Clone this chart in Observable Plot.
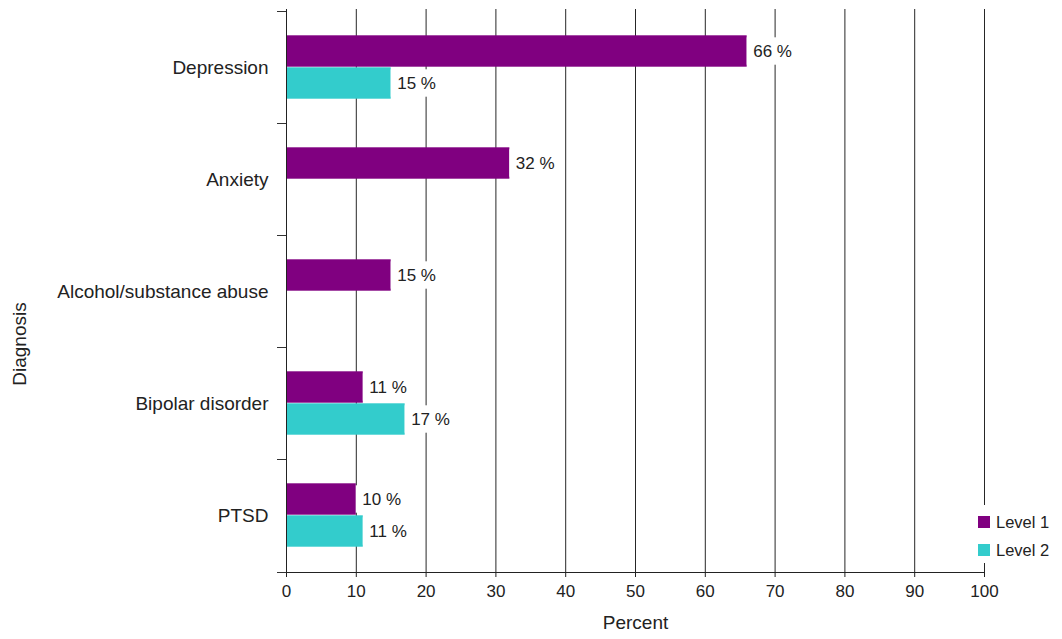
<!DOCTYPE html>
<html>
<head>
<meta charset="utf-8">
<script src="https://cdn.jsdelivr.net/npm/d3@7"></script>
<script src="https://cdn.jsdelivr.net/npm/@observablehq/plot@0.6"></script>
<style>
  html, body { margin: 0; padding: 0; background: #fff; }
  #wrap { position: relative; width: 1062px; height: 639px; font-family: "Liberation Sans", Arial, sans-serif; color: #222; }
  #legend { position: absolute; left: 975px; top: 505px; width: 87px; height: 58px; background: #fff; padding-top: 3px; box-sizing: border-box; }
  .item { display: flex; align-items: center; height: 28px; font-size: 16.5px; }
  .sw { width: 12px; height: 12px; margin-left: 3px; margin-right: 6px; }
  #ytitle { position: absolute; left: 20px; top: 344px; font-size: 19px; white-space: nowrap;
            transform: translate(-50%, -50%) rotate(-90deg); }
</style>
</head>
<body>
<div id="wrap"></div>
<script>
// Share of patients by diagnosis and care level (percent)
const categories = ["Depression", "Anxiety", "Alcohol/substance abuse", "Bipolar disorder", "PTSD"];
const levels = ["Level 1", "Level 2"];
const level1 = [66, 32, 15, 11, 10];
const level2 = [15, null, null, 17, 11];
const xTicks = [0, 10, 20, 30, 40, 50, 60, 70, 80, 90, 100];
const colors = ["#800080", "#33CCCC"];

const W = 1062, H = 639;
const mL = 286, mR = 78, mT = 9, mB = 67;
const band = (H - mT - mB) / categories.length;
const barH = 32;
const off = (band - 2 * barH) / 2;
const pxToX = 100 / (W - mL - mR);
const boxW = 46 * pxToX;

const rows = [level1, level2].map(vals =>
  categories.map((c, i) => ({diagnosis: c, value: vals[i]})).filter(d => d.value != null)
);

// inset pairs for the upper and lower bar in each band
const insets = [
  {insetTop: off, insetBottom: off + barH},
  {insetTop: off + barH, insetBottom: off}
];

const barMarks = rows.flatMap((data, k) => [
  Plot.barX(data, {x: "value", y: "diagnosis", fill: colors[k], ...insets[k]}),
  Plot.barX(data, {x1: "value", x2: d => d.value + boxW, y: "diagnosis", fill: "#fff",
    insetTop: insets[k].insetTop + 2, insetBottom: insets[k].insetBottom + 2}),
  Plot.text(data, {x: "value", y: "diagnosis", text: d => `${d.value} %`, textAnchor: "start",
    dx: 6, dy: (k === 0 ? -1 : 1) * barH / 2, fontSize: 17, fill: "#222"})
]);

// tick marks on the category boundaries
function bandTicks(index, scales, values, dims) {
  const g = d3.create("svg:g").attr("stroke", "#333").attr("stroke-width", 1);
  const bw = (dims.height - dims.marginTop - dims.marginBottom) / categories.length;
  const ys = categories.map(c => scales.y(c)).concat([scales.y(categories[categories.length - 1]) + bw]);
  for (const y of ys) {
    g.append("line").attr("x1", dims.marginLeft - 9).attr("x2", dims.marginLeft)
      .attr("y1", Math.round(y) + 0.5).attr("y2", Math.round(y) + 0.5);
  }
  return g.node();
}

const chart = Plot.plot({
  width: W, height: H,
  marginLeft: mL, marginRight: mR, marginTop: mT, marginBottom: mB,
  style: {fontFamily: "'Liberation Sans', Arial, sans-serif", color: "#222", background: "#fff"},
  x: {domain: [0, 100]},
  y: {domain: categories, type: "band", padding: 0},
  marks: [
    Plot.gridX(xTicks.filter(t => t > 0), {stroke: "#000", strokeOpacity: 0.85}),
    ...barMarks,
    Plot.frame({anchor: "left", stroke: "#222"}),
    Plot.frame({anchor: "bottom", stroke: "#222"}),
    bandTicks,
    Plot.axisX({ticks: xTicks, tickSize: 5, tickPadding: 7, fontSize: 17, label: null, stroke: "#222"}),
    Plot.axisY({tickSize: 0, tickPadding: 18, fontSize: 19, label: null}),
    Plot.text(["Percent"], {frameAnchor: "bottom", dy: 56, fontSize: 19, fill: "#222"})
  ]
});

const wrap = document.getElementById("wrap");
wrap.appendChild(chart);

const ytitle = document.createElement("div");
ytitle.id = "ytitle";
ytitle.textContent = "Diagnosis";
wrap.appendChild(ytitle);

const legend = document.createElement("div");
legend.id = "legend";
levels.forEach((lv, i) => {
  const item = document.createElement("div");
  item.className = "item";
  const sw = document.createElement("span");
  sw.className = "sw";
  sw.style.background = colors[i];
  const tx = document.createElement("span");
  tx.textContent = lv;
  item.appendChild(sw);
  item.appendChild(tx);
  legend.appendChild(item);
});
wrap.appendChild(legend);
</script>
</body>
</html>
